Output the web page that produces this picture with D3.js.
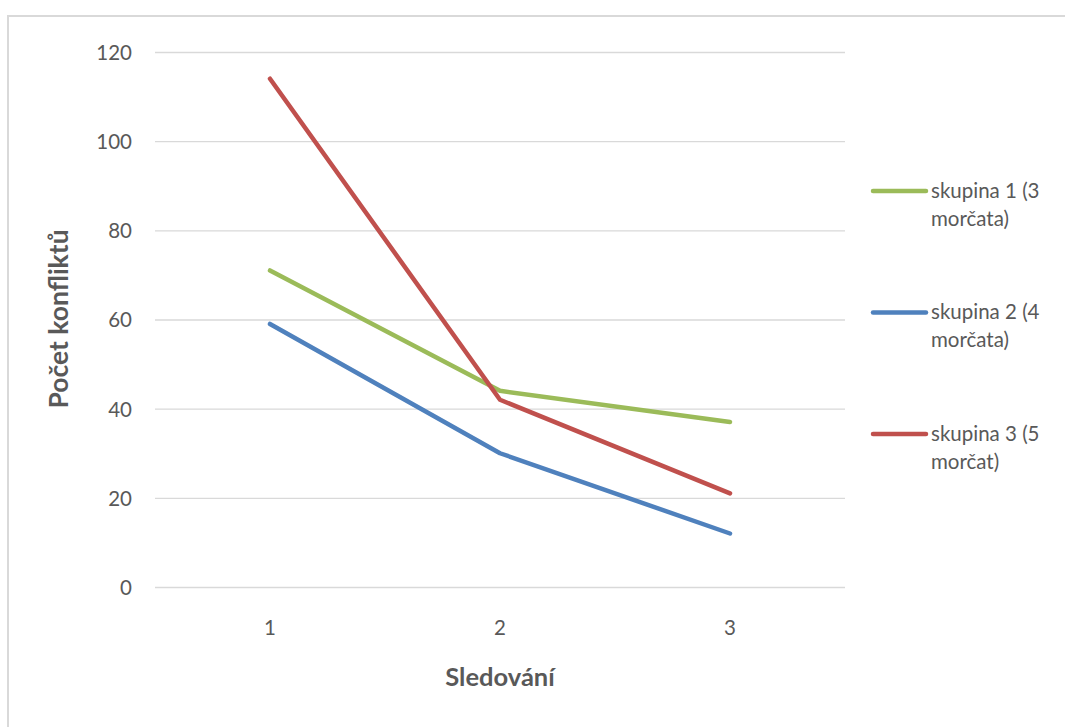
<!DOCTYPE html>
<html><head><meta charset="utf-8">
<script src="https://cdn.jsdelivr.net/npm/d3@7"></script>
<style>body{margin:0;background:#fff}svg{display:block}text{font-family:Lato,"Open Sans",sans-serif}</style>
</head><body>
<svg id="c" width="1065" height="727"></svg>
<script>
const categories = ["1","2","3"];
const seriesNames = ["skupina 1 (3 morčata)","skupina 2 (4 morčata)","skupina 3 (5 morčat)"];
const legendLines = [["skupina 1 (3","morčata)"],["skupina 2 (4","morčata)"],["skupina 3 (5","morčat)"]];
const seriesColors = ["#9bbb59","#4f81bd","#c0504d"];
const group1 = [71,44,37];
const group2 = [59,30,12];
const group3 = [114,42,21];
const yTicks = [0,20,40,60,80,100,120];
const series = [group1, group2, group3];

const svg = d3.select("#c");
svg.append("rect").attr("x",8).attr("y",16).attr("width",1070).attr("height",720)
  .attr("fill","#fff").attr("stroke","#d9d9d9").attr("stroke-width",2);

const L=155, R=845, T=52, B=587;
const x = d3.scaleBand().domain(categories).range([L,R]);
const y = d3.scaleLinear().domain([0,120]).range([B,T]);

const yAxis = svg.append("g").attr("transform",`translate(${L},0)`)
  .call(d3.axisLeft(y).tickValues(yTicks).tickSize(-(R-L)).tickPadding(20));
yAxis.select(".domain").remove();
yAxis.selectAll(".tick line").attr("stroke","#d9d9d9").attr("stroke-width",1.3);
yAxis.selectAll(".tick text").attr("fill","#595959").attr("font-size",20.5).attr("dy","0.36em").attr("x",-23);

const xAxis = svg.append("g").attr("transform",`translate(0,${B})`)
  .call(d3.axisBottom(x).tickSize(0).tickPadding(33.5));
xAxis.select(".domain").remove();
xAxis.selectAll(".tick text").attr("fill","#595959").attr("font-size",20.5);

const line = d3.line().x((d,i)=>x(categories[i])+x.bandwidth()/2).y(d=>y(d));
series.forEach((s,k)=>{
  svg.append("path").datum(s).attr("d",line).attr("fill","none")
    .attr("stroke",seriesColors[k]).attr("stroke-width",4.5).attr("stroke-linecap","round").attr("stroke-linejoin","round");
});

svg.append("text").attr("x",500).attr("y",686).attr("text-anchor","middle")
  .attr("font-size",25.5).attr("font-weight","bold").attr("fill","#595959").text("Sledování");
svg.append("text").attr("transform","translate(68,319) rotate(-90)").attr("text-anchor","middle")
  .attr("font-size",26.5).attr("font-weight","bold").attr("fill","#595959").text("Počet konfliktů");

const legendY = d3.scalePoint().domain(seriesNames).range([191,434]);
seriesNames.forEach((n,k)=>{
  const yy = legendY(n);
  svg.append("line").attr("x1",873).attr("x2",926).attr("y1",yy).attr("y2",yy)
    .attr("stroke",seriesColors[k]).attr("stroke-width",4.5).attr("stroke-linecap","round");
  const t = svg.append("text").attr("x",931).attr("y",yy+6.5).attr("font-size",20.5).attr("fill","#595959");
  legendLines[k].forEach((ln,j)=>t.append("tspan").attr("x",931).attr("dy",j?28:0).text(ln));
});
</script>
</body></html>
